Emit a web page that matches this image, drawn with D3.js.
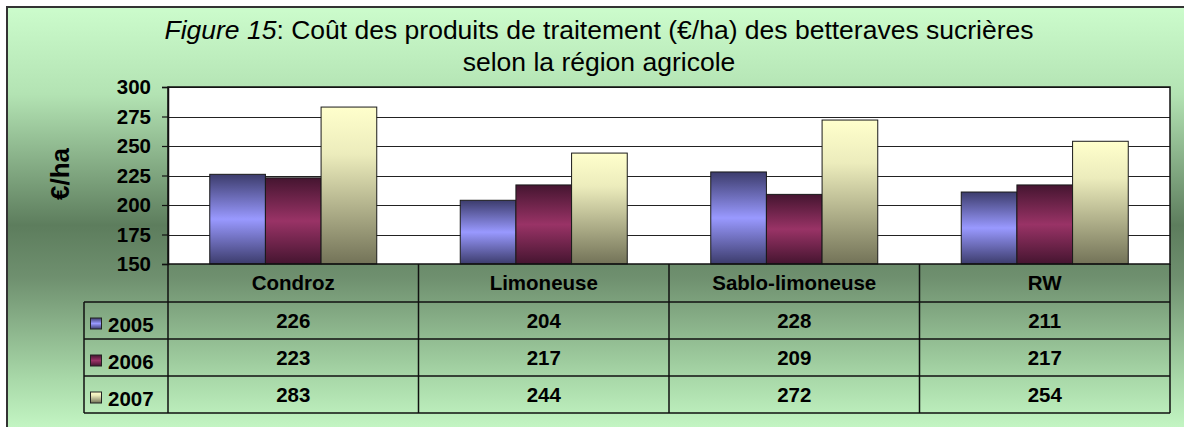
<!DOCTYPE html>
<html>
<head>
<meta charset="utf-8">
<script src="https://cdn.jsdelivr.net/npm/d3@7"></script>
<style>
  html, body { margin: 0; padding: 0; background: #fff; }
  svg { display: block; font-family: "Liberation Sans", Arial, sans-serif; }
</style>
</head>
<body>
<div id="chart"></div>
<script>
(function () {
    const width = 1184, height = 427;

    // ── DATA ──────────────────────────────────────────────────────────────
    const regions = ["Condroz", "Limoneuse", "Sablo-limoneuse", "RW"];
    const years = ["2005", "2006", "2007"];
    const v2005 = [226, 204, 228, 211];
    const v2006 = [223, 217, 209, 217];
    const v2007 = [283, 244, 272, 254];
    const yTicks = [150, 175, 200, 225, 250, 275, 300];

    const seriesValues = { "2005": v2005, "2006": v2006, "2007": v2007 };

    // ── LAYOUT ────────────────────────────────────────────────────────────
    const plot = { left: 168, right: 1170, top: 87, bottom: 264 };
    const headerH = 38, rowH = 37;
    const tableLeft = 84;
    const labelSize = "20.5px";

    const svg = d3.select("#chart").append("svg")
        .attr("width", width).attr("height", height);
    const defs = svg.append("defs");

    // background gradient (light – dark – light)
    const bg = defs.append("linearGradient").attr("id", "bg")
        .attr("x1", 0).attr("y1", 0).attr("x2", 0).attr("y2", 1);
    [[0, "#ccfccc"], [0.2, "#b3e3b3"], [0.5, "#5d7d5d"], [0.62, "#6f906f"], [0.85, "#a8d8a8"], [1, "#ccffcc"]]
        .forEach(([o, c]) => bg.append("stop").attr("offset", o).attr("stop-color", c));

    // bar gradients
    function reflected(id, edge, mid) {
        const g = defs.append("linearGradient").attr("id", id)
            .attr("x1", 0).attr("y1", 0).attr("x2", 0).attr("y2", 1);
        g.append("stop").attr("offset", 0).attr("stop-color", edge);
        g.append("stop").attr("offset", 0.5).attr("stop-color", mid);
        g.append("stop").attr("offset", 1).attr("stop-color", edge);
    }
    reflected("g2005", "#3c3c6c", "#9999ff");
    reflected("g2006", "#451530", "#993366");
    const g7 = defs.append("linearGradient").attr("id", "g2007")
        .attr("x1", 0).attr("y1", 0).attr("x2", 0).attr("y2", 1);
    g7.append("stop").attr("offset", 0).attr("stop-color", "#ffffcc");
    g7.append("stop").attr("offset", 0.3).attr("stop-color", "#ececbc");
    g7.append("stop").attr("offset", 1).attr("stop-color", "#737358");

    // ── FRAME ─────────────────────────────────────────────────────────────
    svg.append("rect")
        .attr("x", 7).attr("y", 7)
        .attr("width", width + 10).attr("height", height + 10)
        .attr("fill", "url(#bg)")
        .attr("stroke", "#333").attr("stroke-width", 2);

    // ── TITLE ─────────────────────────────────────────────────────────────
    const title = svg.append("text")
        .attr("x", 599).attr("y", 39)
        .attr("text-anchor", "middle")
        .style("font-size", "26.5px").attr("fill", "#000");
    title.append("tspan").style("font-style", "italic").text("Figure 15");
    title.append("tspan").text(": Coût des produits de traitement (€/ha) des betteraves sucrières");
    svg.append("text")
        .attr("x", 599).attr("y", 71)
        .attr("text-anchor", "middle")
        .style("font-size", "26.5px")
        .text("selon la région agricole");

    // ── SCALES ────────────────────────────────────────────────────────────
    const x0 = d3.scaleBand().domain(regions).range([plot.left, plot.right]);
    const bw = x0.bandwidth();
    const barW = bw / 4.5;
    const x1 = d3.scaleBand().domain(years)
        .range([(bw - 3 * barW) / 2, (bw + 3 * barW) / 2]);
    const y = d3.scaleLinear().domain([150, 300]).range([plot.bottom, plot.top]);

    // plot area
    svg.append("rect")
        .attr("x", plot.left).attr("y", plot.top)
        .attr("width", plot.right - plot.left).attr("height", plot.bottom - plot.top)
        .attr("fill", "#fff");

    // gridlines
    svg.append("g").selectAll("line")
        .data(yTicks.slice(1))
        .enter().append("line")
        .attr("x1", plot.left).attr("x2", plot.right)
        .attr("y1", d => Math.round(y(d)) + 0.5).attr("y2", d => Math.round(y(d)) + 0.5)
        .attr("stroke", "#222").attr("stroke-width", 1.2);

    // bars
    const groups = svg.append("g").selectAll("g")
        .data(regions)
        .enter().append("g")
        .attr("transform", d => `translate(${x0(d)},0)`);
    groups.selectAll("rect")
        .data((r, i) => years.map(yr => ({ yr, v: seriesValues[yr][i] })))
        .enter().append("rect")
        .attr("x", d => x1(d.yr))
        .attr("y", d => y(d.v))
        .attr("width", x1.bandwidth())
        .attr("height", d => y(150) - y(d.v))
        .attr("fill", d => `url(#g${d.yr})`)
        .attr("stroke", "#1a1a1a").attr("stroke-width", 1);

    // plot border
    svg.append("rect")
        .attr("x", plot.left).attr("y", plot.top)
        .attr("width", plot.right - plot.left).attr("height", plot.bottom - plot.top)
        .attr("fill", "none").attr("stroke", "#111").attr("stroke-width", 1.5);

    // y axis
    const yAxis = svg.append("g")
        .attr("transform", `translate(${plot.left},0)`)
        .call(d3.axisLeft(y).tickValues(yTicks).tickSize(6).tickPadding(11));
    yAxis.select(".domain").attr("stroke", "#111").attr("stroke-width", 1.5);
    yAxis.selectAll(".tick line").attr("stroke", "#111").attr("stroke-width", 1.2);
    yAxis.selectAll(".tick text")
        .attr("fill", "#000")
        .style("font-size", labelSize).style("font-weight", "bold")
        .style("font-family", "'Liberation Sans', Arial, sans-serif");

    svg.append("text")
        .attr("transform", "translate(69,174) rotate(-90)")
        .attr("text-anchor", "middle")
        .style("font-size", "26px").style("font-weight", "bold")
        .text("€/ha");

    // ── DATA TABLE ────────────────────────────────────────────────────────
    const table = svg.append("g");
    const rowTop = plot.bottom + headerH;
    const tableBottom = rowTop + rowH * years.length;

    // horizontal lines
    table.selectAll(".hline")
        .data(d3.range(years.length + 1))
        .enter().append("line")
        .attr("x1", tableLeft).attr("x2", plot.right)
        .attr("y1", i => rowTop + i * rowH).attr("y2", i => rowTop + i * rowH)
        .attr("stroke", "#111").attr("stroke-width", 1.5);
    // vertical lines
    const vx = regions.map(r => x0(r)).concat([plot.right]);
    table.selectAll(".vline")
        .data(vx)
        .enter().append("line")
        .attr("x1", d => d).attr("x2", d => d)
        .attr("y1", plot.bottom).attr("y2", tableBottom)
        .attr("stroke", "#111").attr("stroke-width", 1.5);
    table.append("line")
        .attr("x1", tableLeft).attr("x2", tableLeft)
        .attr("y1", rowTop).attr("y2", tableBottom)
        .attr("stroke", "#111").attr("stroke-width", 1.5);

    // header labels
    table.selectAll(".hdr")
        .data(regions)
        .enter().append("text")
        .attr("x", d => x0(d) + bw / 2)
        .attr("y", plot.bottom + headerH / 2 + 7)
        .attr("text-anchor", "middle")
        .style("font-size", labelSize).style("font-weight", "bold")
        .text(d => d);

    // rows
    years.forEach((yr, ri) => {
        const cy = rowTop + ri * rowH + rowH / 2;
        table.append("rect")
            .attr("x", 90.5).attr("y", cy - 2.5)
            .attr("width", 11).attr("height", 11)
            .attr("fill", `url(#g${yr})`)
            .attr("stroke", "#222").attr("stroke-width", 1);
        table.append("text")
            .attr("x", 108).attr("y", cy + 11)
            .style("font-size", labelSize).style("font-weight", "bold")
            .text(yr);
        table.selectAll(null)
            .data(seriesValues[yr])
            .enter().append("text")
            .attr("x", (d, i) => x0(regions[i]) + bw / 2)
            .attr("y", cy + 7)
            .attr("text-anchor", "middle")
            .style("font-size", labelSize).style("font-weight", "bold")
            .text(d => d);
    });
})();
</script>
</body>
</html>
